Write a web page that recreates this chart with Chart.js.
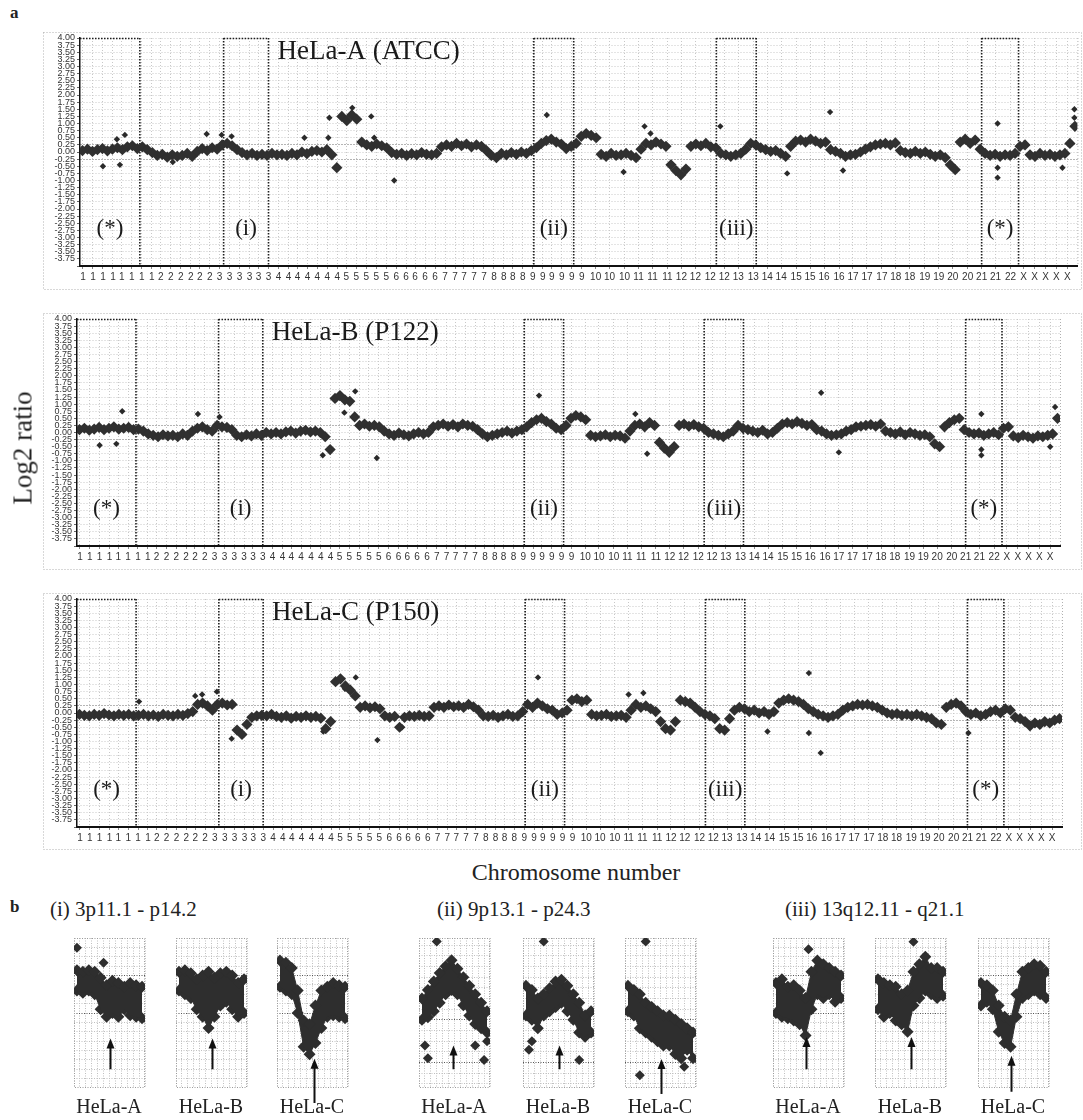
<!DOCTYPE html>
<html>
<head>
<meta charset="utf-8">
<title>HeLa array CGH profiles</title>
<script src="https://cdn.jsdelivr.net/npm/chart.js@4.4.1/dist/chart.umd.min.js"></script>
<style>
  body { margin:0; background:#fff; width:1083px; height:1120px; position:relative; overflow:hidden;
         font-family:"Liberation Serif", "DejaVu Serif", serif; color:#222; }
  canvas { position:absolute; }
  .t { position:absolute; white-space:nowrap; line-height:1; }
</style>
</head>
<body>
<div class="t" style="left:10px;top:4px;font-weight:bold;font-size:17px">a</div>
<canvas id="chA" width="1083" height="292" style="left:0;top:0"></canvas>
<canvas id="chB" width="1083" height="280" style="left:0;top:292px"></canvas>
<canvas id="chC" width="1083" height="280" style="left:0;top:572px"></canvas>
<div class="t" style="left:23px;top:448px;font-size:27px;transform:translate(-50%,-50%) rotate(-90deg)">Log2 ratio</div>
<div class="t" style="left:576px;top:872px;font-size:24px;transform:translate(-50%,-50%)">Chromosome number</div>
<div class="t" style="left:10px;top:898px;font-weight:bold;font-size:17px">b</div>
<div class="t" style="left:50px;top:899px;font-size:21px">(i) 3p11.1 - p14.2</div>
<div class="t" style="left:437px;top:899px;font-size:21px">(ii) 9p13.1 - p24.3</div>
<div class="t" style="left:785px;top:899px;font-size:21px">(iii) 13q12.11 - q21.1</div>
<div id="zoomHost"></div>

<script>
// ---- x axis: chromosome tick labels and their genome positions (0..1000)
const tickLabels = ['1','1','1','1','1','1','1','1','2','2','2','2','2','2','3','3','3','3','3','3',
  '4','4','4','4','4','4','4','5','5','5','5','5','6','6','6','6','6','7','7','7','7','7',
  '8','8','8','8','9','9','9','9','9','9','10','10','10','11','11','11','12','12','12','12',
  '13','13','14','14','15','15','16','16','17','17','17','18','18','19','19','20','20',
  '21','21','22','X','X','X','X','X'];
const tickPos = [3,13,23,33,42,52,62,72, 81,91,101,111,120,130, 140,150,160,170,179,189,
  199,209,218,228,238,248,258, 267,277,287,297,307, 317,327,336,346,356, 366,376,385,395,405,
  415,425,434,444, 454,464,473,483,493,503, 517,531,546, 560,574,589, 603,617,632,646,
  660,675, 689,703, 718,732, 746,761, 775,789,804, 818,832, 847,861, 875,890,
  904,918, 933, 946,957,968,979,990];

// ---- highlighted regions
const regionStart = [0, 144, 455, 638, 904];
const regionEnd   = [60, 189, 495, 678, 941];
const regionNames = ['(*)', '(i)', '(ii)', '(iii)', '(*)'];

// ---- log2 ratios, one value per 5 genome units
const helaA = [
  0.05,0.1,0.02,0.08,0.12,0.04,0.1,0.15,0.08,0.18,
  0.22,0.12,0.18,0.08,-0.02,-0.12,-0.08,-0.18,-0.1,-0.15,
  -0.12,-0.05,-0.15,0.02,0.12,0.05,0.15,0.1,0.25,0.3,
  0.22,0.08,-0.02,-0.1,-0.05,-0.12,-0.08,-0.12,-0.05,-0.1,
  -0.08,-0.12,-0.05,-0.1,0.0,-0.06,0.02,0.05,0.0,0.08,
  -0.1,-0.55,1.25,1.1,1.3,1.15,0.35,0.25,0.2,0.28,
  0.22,0.15,-0.02,-0.08,-0.05,-0.12,-0.06,-0.1,-0.02,-0.08,
  -0.1,-0.05,0.18,0.25,0.2,0.3,0.22,0.28,0.18,0.25,
  0.2,0.05,-0.12,-0.2,-0.05,-0.1,-0.02,-0.08,0.0,-0.05,
  0.05,0.15,0.3,0.4,0.45,0.35,0.28,0.12,0.2,0.3,
  0.55,0.65,0.58,0.5,-0.08,-0.15,-0.05,-0.12,-0.1,-0.05,
  -0.12,-0.2,0.1,0.3,0.25,0.35,0.28,0.2,-0.45,-0.65,
  -0.8,-0.6,0.2,0.28,0.22,0.3,0.18,0.15,-0.05,-0.1,
  -0.15,-0.1,-0.05,0.1,0.3,0.25,0.15,0.08,0.02,0.05,
  -0.05,-0.15,0.2,0.38,0.42,0.35,0.45,0.38,0.3,0.35,
  0.08,0.02,-0.05,-0.15,-0.1,-0.08,0.0,0.1,0.18,0.25,
  0.28,0.3,0.25,0.32,0.05,-0.02,-0.05,0.02,-0.05,0.0,
  -0.08,-0.15,-0.1,-0.2,-0.45,-0.62,0.35,0.45,0.3,0.42,
  0.1,-0.05,-0.12,-0.08,-0.15,-0.1,-0.12,-0.05,0.2,0.25,
  -0.1,-0.15,-0.05,-0.12,-0.08,-0.15,-0.1,-0.05,0.3,0.9];
const helaB = [
  0.1,0.15,0.08,0.12,0.18,0.1,0.15,0.2,0.12,0.15,
  0.18,0.1,0.12,0.05,-0.05,-0.1,-0.15,-0.08,-0.12,-0.1,
  -0.15,-0.05,-0.1,0.05,0.15,0.2,0.1,0.05,0.25,0.2,
  0.18,0.1,-0.1,-0.15,-0.08,-0.12,-0.05,-0.1,0.0,-0.05,
  0.0,-0.05,0.02,0.05,-0.02,0.05,0.08,0.02,0.05,0.0,
  -0.15,-0.6,1.2,1.3,1.15,1.1,0.55,0.25,0.3,0.22,
  0.25,0.2,0.05,-0.05,-0.1,-0.02,-0.08,-0.12,-0.05,0.0,
  -0.05,0.0,0.2,0.25,0.3,0.22,0.28,0.2,0.3,0.25,
  0.22,0.1,-0.05,-0.15,-0.1,-0.05,0.0,0.05,-0.02,0.05,
  0.1,0.2,0.35,0.45,0.5,0.38,0.3,0.15,0.1,0.25,
  0.5,0.6,0.55,0.45,-0.1,-0.15,-0.12,-0.08,-0.15,-0.1,
  -0.12,-0.2,0.05,0.25,0.3,0.2,0.35,0.25,-0.35,-0.55,
  -0.7,-0.5,0.25,0.3,0.22,0.28,0.2,0.15,0.0,-0.05,
  -0.1,-0.15,-0.05,0.05,0.25,0.15,0.1,0.05,0.0,0.08,
  -0.05,0.0,0.15,0.3,0.35,0.3,0.38,0.32,0.25,0.28,
  0.1,0.05,-0.05,-0.1,-0.08,-0.05,0.05,0.1,0.2,0.22,
  0.25,0.28,0.22,0.3,0.05,0.0,-0.05,0.02,-0.08,0.0,
  -0.05,-0.1,-0.08,-0.15,-0.4,-0.5,0.2,0.35,0.45,0.5,
  0.1,0.0,-0.05,-0.02,-0.1,-0.05,0.0,-0.08,0.15,0.2,
  -0.12,-0.18,-0.1,-0.15,-0.2,-0.12,-0.15,-0.1,-0.05,0.5];
const helaC = [
  -0.05,-0.08,-0.1,-0.05,-0.08,-0.02,-0.07,-0.1,-0.05,-0.08,
  -0.05,-0.1,-0.08,-0.05,-0.1,-0.07,-0.12,-0.05,-0.08,-0.1,
  -0.05,-0.08,-0.02,0.05,0.3,0.35,0.25,0.1,0.3,0.35,
  0.28,0.3,-0.6,-0.75,-0.4,-0.15,-0.1,-0.08,-0.1,-0.05,
  -0.12,-0.15,-0.1,-0.18,-0.12,-0.15,-0.1,-0.15,-0.12,-0.18,
  -0.55,-0.3,1.1,1.2,0.95,0.8,0.6,0.2,0.25,0.18,
  0.22,0.15,-0.1,-0.15,-0.12,-0.5,-0.15,-0.1,-0.12,-0.08,
  -0.12,-0.1,0.2,0.25,0.2,0.28,0.22,0.25,0.2,0.3,
  0.22,0.1,-0.1,-0.12,-0.08,-0.15,-0.1,-0.05,-0.12,-0.1,
  0.05,0.3,0.2,0.35,0.25,0.15,0.1,-0.05,0.0,0.1,
  0.45,0.5,0.4,0.45,-0.05,-0.1,-0.08,-0.05,-0.12,-0.1,
  -0.08,-0.15,0.1,0.3,0.2,0.25,0.15,0.05,-0.3,-0.55,
  -0.6,-0.3,0.45,0.4,0.35,0.2,0.05,-0.05,-0.1,-0.2,
  -0.55,-0.6,-0.2,0.1,0.2,0.15,0.05,0.1,0.0,0.05,
  -0.05,0.05,0.35,0.45,0.5,0.45,0.4,0.3,0.15,0.05,
  -0.05,-0.1,-0.15,-0.1,-0.05,0.1,0.2,0.25,0.3,0.28,
  0.3,0.25,0.2,0.1,0.0,-0.05,-0.02,-0.08,-0.05,-0.1,
  -0.05,-0.1,-0.15,-0.2,-0.35,-0.4,0.2,0.3,0.35,0.25,
  0.05,-0.05,0.0,-0.1,-0.05,0.05,0.1,0.0,0.15,0.1,
  -0.15,-0.2,-0.3,-0.45,-0.35,-0.4,-0.3,-0.35,-0.25,-0.2];

// scattered single clones [genome position, log2 ratio]
const outA = [[23,-0.5],[40,-0.45],[45,0.6],[37,0.45],[127,0.63],[93,-0.35],[142,0.6],[152,0.55],
  [225,0.5],[249,0.5],[250,1.2],[273,1.55],[292,1.25],[295,0.5],[315,-1.0],[468,1.3],[545,-0.7],
  [566,0.9],[572,0.65],[642,0.9],[709,-0.75],[752,1.4],[765,-0.65],[920,1.0],[920,-0.55],[920,-0.9],
  [985,-0.55],[997,1.5],[997,1.2]];
const outB = [[23,-0.45],[46,0.75],[40,-0.4],[123,0.65],[145,0.55],[250,-0.8],[283,1.45],[272,0.7],
  [305,-0.9],[470,1.3],[568,0.65],[580,-0.75],[757,1.4],[775,-0.7],[920,0.65],[920,-0.6],[920,-0.8],
  [995,0.9],[990,-0.5]];
const outC = [[63,0.4],[120,0.6],[127,0.65],[142,0.75],[157,-0.9],[250,-0.65],[283,1.25],[272,0.85],
  [305,-0.95],[330,-0.5],[468,1.25],[560,0.65],[575,0.7],[701,-0.65],[743,1.4],[743,-0.7],[755,-1.4],
  [905,-0.7]];

// ---- panel b: magnified regions, band top / bottom per column
const zoomHi = [
  [0.32,0.3,0.32,0.3,0.22,0.12,0.18,0.15,0.1,0.15,0.12,0.1],
  [0.3,0.32,0.28,0.2,0.25,0.3,0.22,0.28,0.3,0.25,0.15,0.2],
  [0.45,0.42,0.35,0.05,-0.35,-0.4,-0.15,0.05,0.1,0.15,0.12,0.1],
  [0.5,0.6,0.7,0.8,0.88,0.95,0.85,0.75,0.65,0.55,0.45,0.35],
  [0.65,0.6,0.5,0.55,0.62,0.7,0.72,0.65,0.55,0.45,0.3,0.35],
  [0.65,0.6,0.55,0.45,0.4,0.35,0.3,0.3,0.25,0.2,0.15,0.1],
  [0.15,0.2,0.1,0.12,0.05,-0.05,0.3,0.45,0.4,0.35,0.3,0.25],
  [0.2,0.15,0.12,0.1,0.0,0.05,0.3,0.4,0.5,0.35,0.35,0.3],
  [0.15,0.12,0.05,-0.15,-0.3,-0.35,0.0,0.3,0.35,0.4,0.38,0.3]];
const zoomLo = [
  [0.05,0.02,0.05,0.0,-0.2,-0.3,-0.25,-0.3,-0.2,-0.28,-0.3,-0.32],
  [0.05,0.0,-0.05,-0.2,-0.3,-0.45,-0.3,-0.15,-0.1,-0.2,-0.3,-0.25],
  [0.1,0.05,0.0,-0.25,-0.7,-0.8,-0.65,-0.45,-0.3,-0.28,-0.3,-0.32],
  [0.25,0.28,0.35,0.45,0.55,0.6,0.55,0.42,0.3,0.2,0.15,0.1],
  [0.3,0.25,0.15,0.3,0.35,0.4,0.45,0.35,0.25,0.1,0.05,0.1],
  [0.35,0.3,0.15,0.1,0.05,0.0,-0.05,-0.05,-0.15,-0.2,-0.1,-0.2],
  [-0.25,-0.3,-0.32,-0.35,-0.4,-0.55,-0.2,0.0,-0.05,0.0,-0.1,-0.05],
  [-0.2,-0.3,-0.25,-0.35,-0.4,-0.5,-0.15,-0.05,0.05,0.0,-0.05,-0.02],
  [-0.15,-0.1,-0.2,-0.5,-0.65,-0.7,-0.3,-0.05,0.0,0.05,0.0,-0.05]];
const zoomOut = [
  [[0,0.62],[4.5,0.42]], [], [],
  [[0.5,-0.05],[1,-0.2],[9,-0.05],[10.5,-0.22],[2.5,1.17],[11,0.0]],
  [[1,0.0],[9,-0.22],[3,1.17],[0.5,-0.1]],
  [[2,-0.4],[6,-0.05],[3,1.17],[9.5,-0.3]],
  [[5.5,0.6]], [[6,0.7]], []];
const zoomYmin = [-1.25, -0.55, -1.25];
const zoomYmax = [0.75, 1.21, 0.75];
const arrowX    = [5.5,5.5,5.8, 5.3,5.5,5.5, 5,5.5,5];
const arrowFrom = [-1.0,-1.0,-1.45, -0.33,-0.33,-0.62, -1.0,-1.0,-1.3];
const arrowTo   = [-0.59,-0.59,-0.86, -0.05,-0.05,-0.21, -0.57,-0.57,-0.82];
const zoomNames = ['HeLa-A', 'HeLa-B', 'HeLa-C'];
const zoomLeft  = [68,170,271, 413,517,619, 767,869,972];

const SANS = '"Liberation Sans", Arial, sans-serif';
const SERIF = '"Liberation Serif", "DejaVu Serif", serif';

// dotted region lines, frame and in-plot labels
const regionPlugin = {
  id: 'regions',
  beforeDatasetsDraw(chart, args, opts) {
    const { ctx, chartArea: a, scales: { x } } = chart;
    ctx.save();
    ctx.setLineDash([1, 2]);
    ctx.strokeStyle = '#b0b0b0';
    ctx.lineWidth = 1;
    ctx.beginPath();
    ctx.moveTo(a.right + 0.5, a.top); ctx.lineTo(a.right + 0.5, a.bottom);
    ctx.stroke();
    ctx.strokeRect(43.5, a.top - 5.5, chart.width - 45, chart.height - a.top + 3);
    ctx.setLineDash([1.5, 1.5]);
    ctx.strokeStyle = '#1e1e1e';
    ctx.lineWidth = 1.6;
    regionStart.forEach((s, i) => {
      const x0 = x.getPixelForValue(s), x1 = x.getPixelForValue(regionEnd[i]);
      [x0, x1].forEach(px => {
        if (px - a.left < 2) return;
        ctx.beginPath(); ctx.moveTo(px, a.top); ctx.lineTo(px, a.bottom); ctx.stroke();
      });
      ctx.beginPath(); ctx.moveTo(x0, a.top + 0.5); ctx.lineTo(x1, a.top + 0.5); ctx.stroke();
    });
    ctx.restore();
  },
  afterDatasetsDraw(chart, args, opts) {
    const { ctx, scales: { x, y } } = chart;
    ctx.save();
    ctx.fillStyle = '#1a1a1a';
    ctx.textBaseline = 'middle';
    ctx.font = '23px ' + SERIF;
    ctx.textAlign = 'center';
    regionNames.forEach((n, i) => {
      const xm = x.getPixelForValue((regionStart[i] + regionEnd[i]) / 2);
      ctx.fillText(n, xm, y.getPixelForValue(-2.7));
    });
    ctx.textAlign = 'left';
    ctx.font = '27px ' + SERIF;
    ctx.fillText(opts.title, x.getPixelForValue(198), y.getPixelForValue(3.5));
    ctx.restore();
  }
};

function mainChart(id, values, outliers, title, yw, top, right, xh) {
  const band = values.map((v, i) => ({ x: i * 5 + 2.5, y: v }));
  const pts = outliers.map(p => ({ x: p[0], y: p[1] }));
  return new Chart(document.getElementById(id), {
    type: 'scatter',
    data: { datasets: [
      { data: band, pointStyle: 'rectRot', pointRadius: 5.6, backgroundColor: '#303030', borderWidth: 0 },
      { data: pts, pointStyle: 'rectRot', pointRadius: 3.2, backgroundColor: '#2a2a2a', borderWidth: 0 }
    ] },
    options: {
      responsive: false, animation: false, events: [],
      layout: { padding: { top: top, right: right, left: 0, bottom: 0 } },
      plugins: { legend: { display: false }, tooltip: { enabled: false }, regions: { title: title } },
      scales: {
        x: {
          type: 'linear', min: 0, max: 1000,
          afterBuildTicks: s => { s.ticks = tickPos.map(v => ({ value: v })); },
          afterFit: s => { s.height = xh; },
          ticks: { autoSkip: false, maxRotation: 0, minRotation: 0, padding: 2, color: '#333',
                   font: { size: 10, family: SANS }, callback: (v, i) => tickLabels[i] },
          grid: { color: '#c8c8c8', lineWidth: 1, tickLength: 3, tickColor: '#888' },
          border: { color: '#111', width: 2, dash: [1, 2] }
        },
        y: {
          min: -4, max: 4,
          afterFit: s => { s.width = yw; },
          ticks: { stepSize: 0.25, autoSkip: false, padding: 2, color: '#333',
                   font: { size: 9, family: SANS },
                   callback: v => (v <= -4 ? '' : v.toFixed(2)) },
          grid: { lineWidth: 1, tickLength: 3, tickColor: '#666',
                  color: c => (Math.abs(Math.abs(c.tick.value) - 0.25) < 1e-6 ? '#6a6a6a' : '#c8c8c8') },
          border: { color: '#111', width: 1.5, dash: [1, 2] }
        }
      }
    },
    plugins: [regionPlugin]
  });
}

mainChart('chA', helaA, outA, 'HeLa-A (ATCC)', 80, 38, 3, 26);
mainChart('chB', helaB, outB, 'HeLa-B (P122)', 77, 27, 23, 26);
mainChart('chC', helaC, outC, 'HeLa-C (P150)', 77, 27, 21, 25);

// ---- panel b small charts
const zoomPlugin = {
  id: 'zoomdeco',
  beforeDatasetsDraw(chart) {
    const { ctx, chartArea: a } = chart;
    ctx.save();
    ctx.setLineDash([1, 1.5]);
    ctx.strokeStyle = '#9a9a9a';
    ctx.lineWidth = 1;
    ctx.strokeRect(a.left + 0.5, a.top + 0.5, a.right - a.left - 1, a.bottom - a.top - 1);
    ctx.restore();
  },
  afterDatasetsDraw(chart, args, opts) {
    const { ctx, scales: { x, y } } = chart;
    const k = opts.k;
    const px = Math.round(x.getPixelForValue(arrowX[k])) + 0.5;
    const y0 = y.getPixelForValue(arrowFrom[k]), y1 = y.getPixelForValue(arrowTo[k]);
    ctx.save();
    ctx.strokeStyle = '#111'; ctx.fillStyle = '#111'; ctx.lineWidth = 2;
    ctx.beginPath(); ctx.moveTo(px, y0); ctx.lineTo(px, y1 + 6); ctx.stroke();
    ctx.beginPath(); ctx.moveTo(px, y1); ctx.lineTo(px - 4, y1 + 10); ctx.lineTo(px + 4, y1 + 10);
    ctx.closePath(); ctx.fill();
    ctx.restore();
  }
};

const host = document.getElementById('zoomHost');
zoomLeft.forEach((left, k) => {
  const g = Math.floor(k / 3);
  const cv = document.createElement('canvas');
  cv.width = 83; cv.height = 172;
  cv.style.left = left + 'px'; cv.style.top = '932px';
  host.appendChild(cv);
  const lab = document.createElement('div');
  lab.className = 't';
  lab.style.cssText = 'left:' + (left + 41) + 'px;top:1106px;font-size:20px;transform:translate(-50%,-50%)';
  lab.textContent = zoomNames[k % 3];
  host.appendChild(lab);
  const pt = { pointStyle: 'rectRot', pointRadius: 6, pointBackgroundColor: '#2e2e2e',
               pointBorderWidth: 0, borderColor: '#2e2e2e', borderWidth: 1, tension: 0 };
  new Chart(cv, {
    type: 'line',
    data: { datasets: [
      Object.assign({ data: zoomHi[k].map((v, i) => ({ x: i, y: v })), fill: '+1', backgroundColor: '#2e2e2e' }, pt),
      Object.assign({ data: zoomLo[k].map((v, i) => ({ x: i, y: v })), fill: false }, pt),
      Object.assign({ data: zoomOut[k].map(p => ({ x: p[0], y: p[1] })), showLine: false, fill: false }, pt, { pointRadius: 5 })
    ] },
    options: {
      responsive: false, animation: false, events: [],
      layout: { padding: { top: 0, right: 0, left: 0, bottom: 16 } },
      plugins: { legend: { display: false }, tooltip: { enabled: false }, zoomdeco: { k: k } },
      scales: {
        x: { type: 'linear', min: -0.5, max: 11.5,
             ticks: { display: false, stepSize: 1 },
             grid: { drawTicks: false, color: '#c0c0c0' }, border: { display: false, dash: [1, 1.5] } },
        y: { min: zoomYmin[g], max: zoomYmax[g],
             afterBuildTicks: s => {
               const t = [];
               for (let v = 0.25; v < s.max; v += 0.125) t.push({ value: v });
               for (let v = 0.125; v > s.min; v -= 0.125) t.push({ value: v });
               s.ticks = t;
             },
             ticks: { display: false },
             grid: { drawTicks: false,
                     color: c => (Math.abs(Math.abs(c.tick.value) - 0.25) < 1e-6 ? '#555' : '#c0c0c0') },
             border: { display: false, dash: [1, 1.5] } }
      }
    },
    plugins: [zoomPlugin]
  });
});
</script>
</body>
</html>
